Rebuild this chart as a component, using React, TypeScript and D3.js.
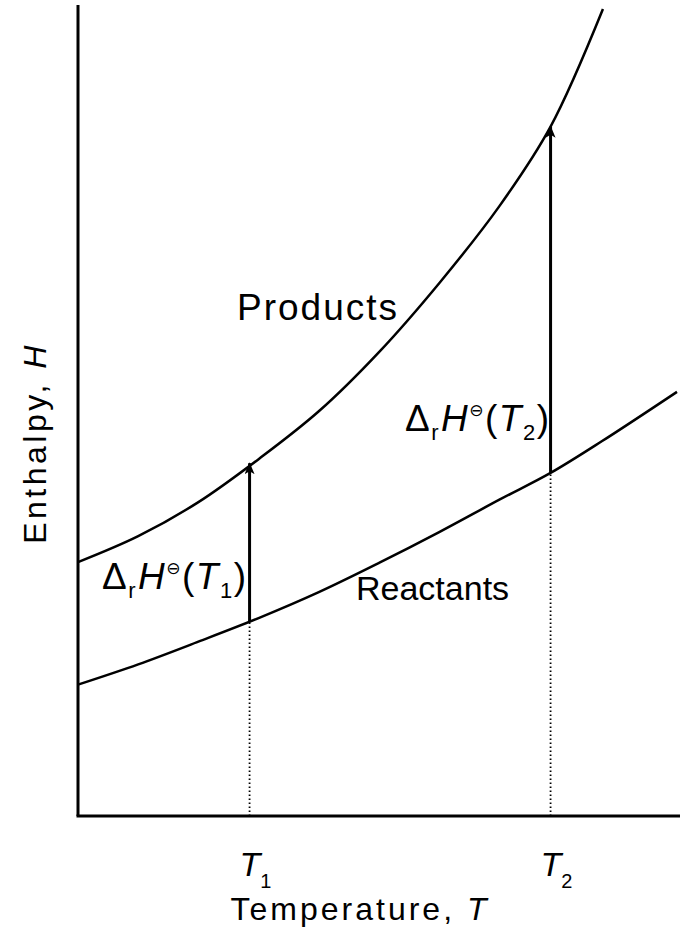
import * as d3 from "d3";

// temperature grid (arbitrary units) and enthalpy
const productTemps = [0, 1, 2, 3, 4, 5, 6, 7, 7.85, 8.72];
const productH = [3.13, 3.45, 3.87, 4.4, 4.99, 5.72, 6.57, 7.52, 8.5, 9.95];
const reactantTemps = [0, 1, 2, 3, 4, 5, 6, 7, 7.85, 8.7, 9.95];
const reactantH = [1.62, 1.87, 2.15, 2.44, 2.76, 3.12, 3.5, 3.9, 4.23, 4.62, 5.23];

const markTemps = [2.85, 7.85];
const markSubs = ["1", "2"];
const arrowFrom = [2.4, 4.23];
const arrowTo = [4.35, 8.5];

const W = 682;
const H = 930;
const FONT = "'Liberation Sans', Arial, Helvetica, sans-serif";

const x = d3.scaleLinear().domain([0, 10]).range([78, 680]);
const y = d3.scaleLinear().domain([0, 10]).range([816, 5]);

const line = d3
  .line<[number, number]>()
  .x((d) => x(d[0]))
  .y((d) => y(d[1]))
  .curve(d3.curveCatmullRom);

const productPts = productTemps.map((t, i) => [t, productH[i]] as [number, number]);
const reactantPts = reactantTemps.map((t, i) => [t, reactantH[i]] as [number, number]);

const DeltaLabel = (props: { x: number; y: number; sub: string }) => (
  <text
    x={props.x}
    y={props.y}
    fontFamily={FONT}
    fontSize={37}
    letterSpacing={1.5}
    fill="#000"
  >
    <tspan>Δ</tspan>
    <tspan fontSize={22} dy={9}>r</tspan>
    <tspan fontStyle="italic" dy={-9} dx={1}>H</tspan>
    <tspan fontSize={17} dy={-15} fontFamily="'DejaVu Sans', sans-serif">⊖</tspan>
    <tspan dy={15}>(</tspan>
    <tspan fontStyle="italic">T</tspan>
    <tspan fontSize={22} dy={9}>{props.sub}</tspan>
    <tspan dy={-9}>)</tspan>
  </text>
);

const App = () => {
  return (
    <svg
      width={W}
      height={H}
      style={{ position: "absolute", left: 0, top: 0, background: "#fff" }}
    >
      <defs>
        <marker
          id="head"
          viewBox="0 0 12 10"
          refX={11}
          refY={5}
          markerWidth={12}
          markerHeight={10}
          markerUnits="userSpaceOnUse"
          orient="auto"
        >
          <path d="M12,5 L0,0 L3,5 L0,10 Z" fill="#000" />
        </marker>
      </defs>

      {/* axes */}
      <line x1={x(0)} x2={x(0)} y1={y(10)} y2={y(0)} stroke="#000" strokeWidth={3} />
      <line x1={x(0) - 1.5} x2={x(10)} y1={y(0)} y2={y(0)} stroke="#000" strokeWidth={3} />

      {/* dotted guides */}
      {markTemps.map((t, i) => (
        <line
          key={"g" + i}
          x1={x(t)}
          x2={x(t)}
          y1={y(0)}
          y2={y(arrowFrom[i])}
          stroke="#000"
          strokeWidth={1.8}
          strokeDasharray="1.5,2.5"
        />
      ))}

      {/* curves */}
      <path d={line(productPts) ?? ""} fill="none" stroke="#000" strokeWidth={2.5} />
      <path d={line(reactantPts) ?? ""} fill="none" stroke="#000" strokeWidth={2.5} />

      {/* arrows */}
      {markTemps.map((t, i) => (
        <line
          key={"a" + i}
          x1={x(t)}
          x2={x(t)}
          y1={y(arrowFrom[i])}
          y2={y(arrowTo[i])}
          stroke="#000"
          strokeWidth={3}
          markerEnd="url(#head)"
        />
      ))}

      {/* curve labels */}
      <text x={237} y={320} fontFamily={FONT} fontSize={37} letterSpacing={2}>
        Products
      </text>
      <text x={356} y={600} fontFamily={FONT} fontSize={34}>
        Reactants
      </text>
      <DeltaLabel x={102} y={589} sub={markSubs[0]} />
      <DeltaLabel x={405} y={431} sub={markSubs[1]} />

      {/* T ticks */}
      {markTemps.map((t, i) => (
        <text
          key={"t" + i}
          x={x(t) - 10}
          y={876}
          fontFamily={FONT}
          fontSize={34}
        >
          <tspan fontStyle="italic">T</tspan>
          <tspan fontSize={20} dy={12}>{markSubs[i]}</tspan>
        </text>
      ))}

      {/* axis titles */}
      <text
        x={360}
        y={920}
        textAnchor="middle"
        fontFamily={FONT}
        fontSize={32}
        letterSpacing={3}
      >
        Temperature, <tspan fontStyle="italic">T</tspan>
      </text>
      <text
        transform={`translate(46,443) rotate(-90)`}
        textAnchor="middle"
        fontFamily={FONT}
        fontSize={32}
        letterSpacing={3.5}
      >
        Enthalpy, <tspan fontStyle="italic">H</tspan>
      </text>
    </svg>
  );
};

export default App;
